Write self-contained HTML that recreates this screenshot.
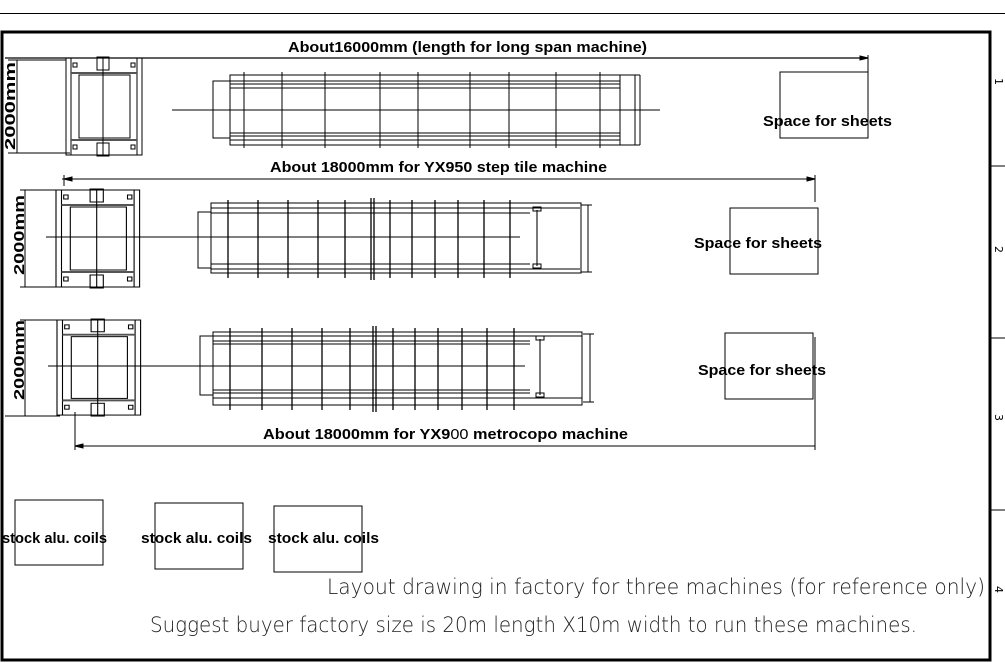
<!DOCTYPE html>
<html><head><meta charset="utf-8"><style>
html,body{margin:0;padding:0;background:#fff}
svg{display:block}
.b{font-family:"Liberation Sans",sans-serif;font-weight:bold;font-size:15px;fill:#000}
.t{font-family:"DejaVu Sans","Liberation Sans",sans-serif;font-size:21px;fill:#222;font-stretch:condensed;font-weight:200}
</style></head><body>
<svg width="1005" height="663" viewBox="0 0 1005 663" xmlns="http://www.w3.org/2000/svg">
<defs>
<g id="unc" fill="none" stroke="#000" stroke-width="1">
<rect x="0" y="0" width="76" height="97"/>
<line x1="5" y1="0" x2="5" y2="97"/><line x1="71" y1="0" x2="71" y2="97"/>
<line x1="5" y1="15" x2="71" y2="15" stroke="#555" stroke-width="2"/>
<line x1="5" y1="82" x2="71" y2="82" stroke="#555" stroke-width="2"/>
<rect x="13" y="17" width="51" height="63"/>
<line x1="37" y1="0" x2="37" y2="97"/>
<rect x="31" y="-1" width="12" height="13"/><rect x="31" y="85" width="12" height="13"/>
<rect x="7" y="5" width="4" height="4"/><rect x="65" y="5" width="4" height="4"/>
<rect x="7" y="87" width="4" height="4"/><rect x="65" y="87" width="4" height="4"/>
</g>
</defs>
<g fill="none" stroke="#000">
<line x1="0" y1="13.5" x2="1005" y2="13.5" stroke-width="1"/>
<rect x="2" y="32" width="988" height="628" stroke-width="3"/>
<line x1="990" y1="166" x2="1005" y2="166"/><line x1="990" y1="338" x2="1005" y2="338"/><line x1="990" y1="510" x2="1005" y2="510"/>
<!-- row1 -->
<line x1="5" y1="58" x2="868" y2="58" stroke-width="1.3"/>
<line x1="868" y1="55" x2="868" y2="72"/>
<path d="M860 56 L868 58 L860 60Z" fill="#000"/>
<line x1="17" y1="60" x2="17" y2="153"/>
<line x1="8" y1="60" x2="66" y2="60"/><line x1="8" y1="153" x2="70" y2="153"/>
<use href="#unc" transform="translate(66,58)"/>
<rect x="213" y="81" width="17" height="57"/>
<rect x="230" y="75" width="405" height="70"/>
<line x1="230" y1="81" x2="620" y2="81"/><line x1="230" y1="84" x2="620" y2="84"/><line x1="230" y1="88" x2="620" y2="88"/>
<line x1="230" y1="133" x2="620" y2="133"/><line x1="230" y1="136" x2="620" y2="136"/><line x1="230" y1="140" x2="620" y2="140"/>
<rect x="620" y="75" width="15" height="70"/><line x1="640" y1="75" x2="640" y2="145"/><line x1="635" y1="75" x2="640" y2="75"/><line x1="635" y1="145" x2="640" y2="145"/>
<path d="M244 72V148M282 72V148M325 72V148M380 72V148M418 72V148M470 72V148M509 72V148M556 72V148M600 72V148"/>
<line x1="172" y1="110" x2="660" y2="110"/>
<rect x="780" y="72" width="88" height="66"/>
<!-- row2 -->
<line x1="62" y1="179" x2="815" y2="179"/>
<line x1="815" y1="175" x2="815" y2="202"/><line x1="64" y1="175" x2="64" y2="186"/>
<path d="M807 177 L815 179 L807 181Z" fill="#000"/><path d="M72 177 L64 179 L72 181Z" fill="#000"/>
<line x1="25" y1="190" x2="25" y2="287"/>
<line x1="20" y1="190" x2="60" y2="190"/><line x1="20" y1="287" x2="60" y2="287"/>
<use href="#unc" transform="translate(56,190) scale(1.1,1)"/>
<rect x="198" y="212" width="13" height="56"/>
<rect x="211" y="203" width="370" height="70"/>
<line x1="211" y1="208" x2="580" y2="208"/><line x1="211" y1="213" x2="530" y2="213"/><line x1="211" y1="264" x2="530" y2="264"/><line x1="211" y1="269" x2="580" y2="269"/>
<path d="M228 200V278M258 200V278M288 200V278M318 200V278M345 200V278M390 200V278M412 200V278M435 200V278M458 200V278M484 200V278M510 200V278" stroke-width="1.3"/>
<path d="M371 198V280M374 198V280" stroke-width="1.3"/>
<line x1="537" y1="210" x2="537" y2="266" stroke-width="2" stroke="#777"/>
<rect x="533" y="207" width="8" height="4"/><rect x="533" y="264" width="8" height="4"/>
<line x1="46" y1="237" x2="520" y2="237"/>
<line x1="588" y1="205" x2="588" y2="272"/><line x1="581" y1="205" x2="592" y2="205"/><line x1="581" y1="272" x2="592" y2="272"/>
<rect x="730" y="208" width="88" height="66"/>
<!-- row3 -->
<line x1="25" y1="320" x2="25" y2="416"/>
<line x1="20" y1="320" x2="60" y2="320"/><line x1="5" y1="416" x2="60" y2="416"/>
<use href="#unc" transform="translate(57,320) scale(1.1,0.98)"/>
<line x1="75" y1="412" x2="75" y2="450"/>
<rect x="200" y="336" width="13" height="59"/>
<rect x="213" y="332" width="369" height="73"/>
<line x1="213" y1="336" x2="582" y2="336"/><line x1="213" y1="341" x2="530" y2="341"/><line x1="213" y1="344" x2="530" y2="344"/>
<line x1="213" y1="390" x2="530" y2="390"/><line x1="213" y1="393" x2="530" y2="393"/><line x1="213" y1="398" x2="582" y2="398"/>
<path d="M230 328V410M262 328V410M292 328V410M322 328V410M350 328V410M393 328V410M415 328V410M438 328V410M462 328V410M487 328V410M514 328V410" stroke-width="1.3"/>
<path d="M373 326V412M376 326V412" stroke-width="1.3"/>
<line x1="540" y1="339" x2="540" y2="395" stroke-width="2" stroke="#777"/>
<rect x="536" y="336" width="8" height="4"/><rect x="536" y="393" width="8" height="4"/>
<line x1="48" y1="366" x2="525" y2="366"/>
<line x1="590" y1="334" x2="590" y2="402"/><line x1="583" y1="334" x2="594" y2="334"/><line x1="583" y1="402" x2="594" y2="402"/>
<line x1="75" y1="446" x2="815" y2="446"/><line x1="815" y1="337" x2="815" y2="450"/>
<path d="M83 444 L75 446 L83 448Z" fill="#000"/>
<rect x="725" y="333" width="88" height="66"/>
<!-- coils -->
<rect x="15" y="500" width="88" height="65"/>
<rect x="155" y="503" width="88" height="66"/>
<rect x="274" y="506" width="88" height="66"/>
</g>
<text class="b" x="288" y="52" textLength="359" lengthAdjust="spacingAndGlyphs">About16000mm (length for long span  machine)</text>
<text class="b" x="270" y="172" textLength="337" lengthAdjust="spacingAndGlyphs">About 18000mm for YX950 step tile machine</text>
<text class="b" x="263" y="439" textLength="365" lengthAdjust="spacingAndGlyphs">About 18000mm for YX9<tspan font-weight="normal">00</tspan> metrocopo  machine</text>
<text class="b" x="763" y="126" textLength="129" lengthAdjust="spacingAndGlyphs">Space for sheets</text>
<text class="b" x="694" y="248" textLength="128" lengthAdjust="spacingAndGlyphs">Space for sheets</text>
<text class="b" x="698" y="375" textLength="128" lengthAdjust="spacingAndGlyphs">Space for sheets</text>
<text class="b" x="2" y="543" textLength="105" lengthAdjust="spacingAndGlyphs">stock alu. coils</text>
<text class="b" x="141" y="543" textLength="111" lengthAdjust="spacingAndGlyphs">stock alu. coils</text>
<text class="b" x="268" y="543" textLength="111" lengthAdjust="spacingAndGlyphs">stock alu. coils</text>
<text class="b" transform="translate(15,150) rotate(-90)" textLength="88" lengthAdjust="spacingAndGlyphs">2000mm</text>
<text class="b" transform="translate(24,275) rotate(-90)" textLength="80" lengthAdjust="spacingAndGlyphs">2000mm</text>
<text class="b" transform="translate(24,400) rotate(-90)" textLength="80" lengthAdjust="spacingAndGlyphs">2000mm</text>
<text class="t" x="327" y="594" textLength="658" lengthAdjust="spacingAndGlyphs">Layout drawing in factory for three machines (for reference only)</text>
<text class="t" x="150" y="632" textLength="767" lengthAdjust="spacingAndGlyphs">Suggest buyer factory size is 20m length X10m width to run these machines.</text>
<g font-family="DejaVu Sans" font-size="11" fill="#000">
<text transform="translate(995,78) rotate(90)">1</text>
<text transform="translate(995,246) rotate(90)">2</text>
<text transform="translate(995,414) rotate(90)">3</text>
<text transform="translate(995,586) rotate(90)">4</text>
</g>
</svg>
</body></html>
